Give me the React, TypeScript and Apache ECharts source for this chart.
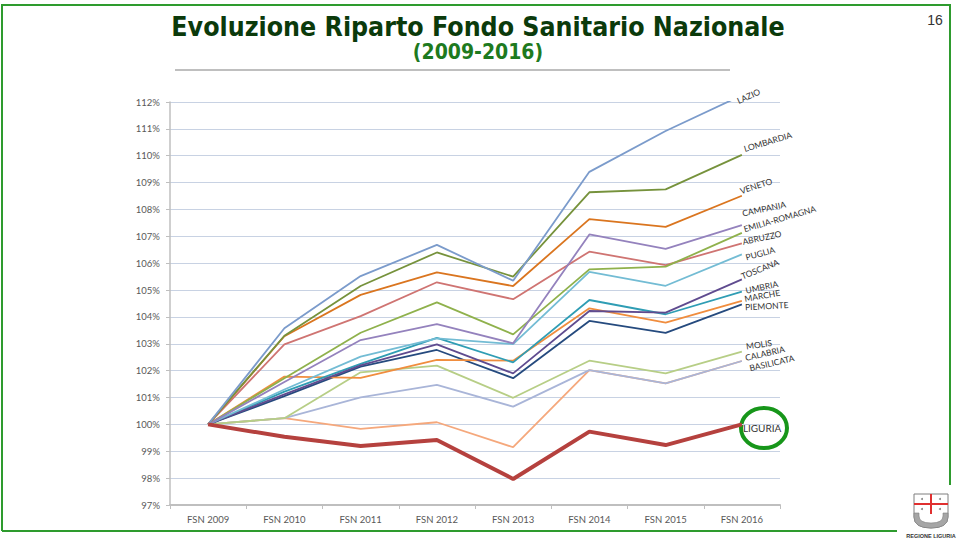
import React, { useEffect, useRef } from "react";
import * as echarts from "echarts";

const categories = ["FSN 2009", "FSN 2010", "FSN 2011", "FSN 2012", "FSN 2013", "FSN 2014", "FSN 2015", "FSN 2016"];

const lazio = [100, 103.58, 105.52, 106.68, 105.35, 109.4, 110.92, 112.25];
const lombardia = [100, 103.3, 105.15, 106.4, 105.5, 108.64, 108.75, 110.03];
const veneto = [100, 103.28, 104.82, 105.66, 105.15, 107.64, 107.35, 108.51];
const campania = [100, 101.58, 103.14, 103.73, 103.02, 107.07, 106.53, 107.42];
const emilia = [100, 101.72, 103.41, 104.54, 103.35, 105.77, 105.87, 107.13];
const abruzzo = [100, 102.98, 104.03, 105.29, 104.66, 106.43, 105.93, 106.74];
const puglia = [100, 101.3, 102.52, 103.2, 102.99, 105.68, 105.16, 106.33];
const toscana = [100, 101.12, 102.2, 102.98, 101.9, 104.22, 104.16, 105.4];
const umbria = [100, 101.22, 102.25, 103.22, 102.31, 104.63, 104.1, 104.94];
const marche = [100, 101.78, 101.73, 102.4, 102.37, 104.32, 103.79, 104.6];
const piemonte = [100, 101.05, 102.15, 102.77, 101.72, 103.85, 103.41, 104.47];
const molise = [100, 100.23, 101.94, 102.19, 100.99, 102.37, 101.9, 102.71];
const calabria = [100, 100.23, 101.01, 101.47, 100.66, 102.02, 101.53, 102.36];
const basilicata = [100, 100.23, 99.83, 100.08, 99.15, 102.02, 101.53, 102.36];
const liguria = [100, 99.54, 99.2, 99.42, 97.97, 99.73, 99.23, 100.0];

const yMin = 97;
const yMax = 112;
const yStep = 1;

// name, data, color, label rotation, label offset
const seriesDefs: [string, number[], string, number, [number, number]][] = [
  ["BASILICATA", basilicata, "#F5A87C", 13, [2, 8]],
  ["CALABRIA", calabria, "#A9B5D8", 13, [0, -3]],
  ["MOLISE", molise, "#B7CE86", 8, [1, -5]],
  ["PIEMONTE", piemonte, "#254A7E", 3, [-1, 3]],
  ["MARCHE", marche, "#F08D3E", 10, [-1, -2]],
  ["UMBRIA", umbria, "#2F9DB4", 12, [0, -1]],
  ["TOSCANA", toscana, "#5F4B8F", 22, [-3, -4]],
  ["PUGLIA", puglia, "#73BCD4", 15, [-1, 3]],
  ["ABRUZZO", abruzzo, "#CF7472", 12, [-3, -2]],
  ["EMILIA-ROMAGNA", emilia, "#8FB14C", 16, [-1, -4]],
  ["CAMPANIA", campania, "#9482BD", 12, [-1, -12]],
  ["VENETO", veneto, "#DA751F", 18, [-4, -6]],
  ["LOMBARDIA", lombardia, "#76923C", 17, [0, -6]],
  ["LAZIO", lazio, "#7B9BCB", 24, [-10, 2]],
  ["LIGURIA", liguria, "#B5413E", 0, [-3, 4]],
];

echarts.graphic.registerShape(
  "shieldOutline",
  echarts.graphic.extendPath("M914 494 L948 494 L948 517 Q948 528 931 528 Q914 528 914 517 Z", {})
);
echarts.graphic.registerShape(
  "shieldU",
  echarts.graphic.extendPath(
    "M914 513 L914 517 Q914 528 931 528 Q948 528 948 517 L948 513 L943 513 L943 516 Q943 523 931 523 Q919 523 919 516 L919 513 Z",
    {}
  )
);

export default function App() {
  const ref = useRef<HTMLDivElement>(null);
  useEffect(() => {
    if (!ref.current) return;
    const chart = echarts.init(ref.current, undefined, { renderer: "svg" });
    const series = seriesDefs.map(([name, data, color, rot, off]) => ({
      name,
      type: "line",
      data,
      symbol: "none",
      clip: true,
      z: name === "LIGURIA" ? 5 : 2,
      lineStyle: { color, width: name === "LIGURIA" ? 4 : 1.8 },
      itemStyle: { color },
      endLabel: {
        show: true,
        formatter: name === "MOLISE" ? "MOLIS" : "{a}",
        rotate: rot,
        offset: off,
        distance: 4,
        color: "#333333",
        fontFamily: "Lato",
        fontSize: name === "LIGURIA" ? 10 : 8.5,
        align: "left",
        verticalAlign: "middle",
      },
    }));
    chart.setOption({
      animation: false,
      backgroundColor: "#ffffff",
      textStyle: { fontFamily: "Lato" },
      grid: { left: 170, right: 180, top: 102, bottom: 37, containLabel: false },
      xAxis: {
        type: "category",
        data: categories,
        boundaryGap: true,
        axisLine: { lineStyle: { color: "#BFBFBF", width: 2 } },
        axisTick: { show: true, length: 4, lineStyle: { color: "#BFBFBF" } },
        axisLabel: { color: "#595959", fontSize: 9.5, fontFamily: "Lato", margin: 9 },
        splitLine: { show: false },
      },
      yAxis: {
        type: "value",
        min: yMin,
        max: yMax,
        interval: yStep,
        axisLine: { show: true, lineStyle: { color: "#BFBFBF", width: 1.5 } },
        axisTick: { show: true, length: 4, lineStyle: { color: "#BFBFBF" } },
        axisLabel: { color: "#595959", fontSize: 9.5, fontFamily: "Lato", margin: 10, formatter: "{value}%" },
        splitLine: { show: true, lineStyle: { color: "#C8D2E3", width: 1 } },
      },
      series,
      graphic: [
        {
          type: "polyline",
          shape: { points: [[2, 531], [2, 5], [950, 5], [950, 485]] },
          style: { stroke: "#2E9B2E", lineWidth: 2, fill: null },
          silent: true,
        },
        {
          type: "line",
          shape: { x1: 2, y1: 531, x2: 897, y2: 531 },
          style: { stroke: "#2E9B2E", lineWidth: 2 },
          silent: true,
        },
        {
          type: "text",
          x: 478,
          y: 26,
          style: {
            text: "Evoluzione Riparto Fondo Sanitario Nazionale",
            fontFamily: "DejaVu Sans Condensed",
            fontWeight: "bold",
            fontSize: 26.5,
            lineHeight: 26,
            fill: "#0B3A0B",
            align: "center",
            verticalAlign: "middle",
          },
        },
        {
          type: "text",
          x: 478,
          y: 52,
          style: {
            text: "(2009-2016)",
            fontFamily: "DejaVu Sans Condensed",
            fontWeight: "bold",
            fontSize: 21,
            lineHeight: 20,
            fill: "#1E7A1E",
            align: "center",
            verticalAlign: "middle",
          },
        },
        {
          type: "line",
          shape: { x1: 175, y1: 70, x2: 730, y2: 70 },
          style: { stroke: "#BFBFBF", lineWidth: 2 },
        },
        {
          type: "text",
          x: 935,
          y: 20,
          style: {
            text: "16",
            fontFamily: "Liberation Sans",
            fontSize: 14,
            fill: "#333333",
            align: "center",
            verticalAlign: "middle",
          },
        },
        {
          type: "ellipse",
          shape: { cx: 764, cy: 428, rx: 23, ry: 20 },
          style: { stroke: "#17961A", lineWidth: 4, fill: null },
        },
        {
          type: "group",
          children: [
            { type: "shieldOutline", style: { fill: "#ffffff", stroke: "#7F7F7F", lineWidth: 1 } },
            { type: "shieldU", style: { fill: "#A6A6A6", stroke: "#7F7F7F", lineWidth: 0.6 } },
            { type: "line", shape: { x1: 931, y1: 494, x2: 931, y2: 514 }, style: { stroke: "#E03030", lineWidth: 2 } },
            { type: "line", shape: { x1: 914, y1: 504, x2: 948, y2: 504 }, style: { stroke: "#E03030", lineWidth: 2 } },
            { type: "circle", shape: { cx: 922, cy: 499, r: 1 }, style: { fill: "#888" } },
            { type: "circle", shape: { cx: 940, cy: 499, r: 1 }, style: { fill: "#888" } },
            { type: "circle", shape: { cx: 922, cy: 509, r: 1 }, style: { fill: "#888" } },
            { type: "circle", shape: { cx: 940, cy: 509, r: 1 }, style: { fill: "#888" } },
            {
              type: "text",
              x: 931,
              y: 536,
              style: {
                text: "REGIONE LIGURIA",
                fontFamily: "Liberation Sans",
                fontWeight: "bold",
                fontSize: 5.5,
                fill: "#333333",
                align: "center",
                verticalAlign: "middle",
              },
            },
          ],
        },
      ],
    });
    return () => chart.dispose();
  }, []);
  return <div ref={ref} style={{ position: "fixed", left: 0, top: 0, width: 960, height: 542 }} />;
}
